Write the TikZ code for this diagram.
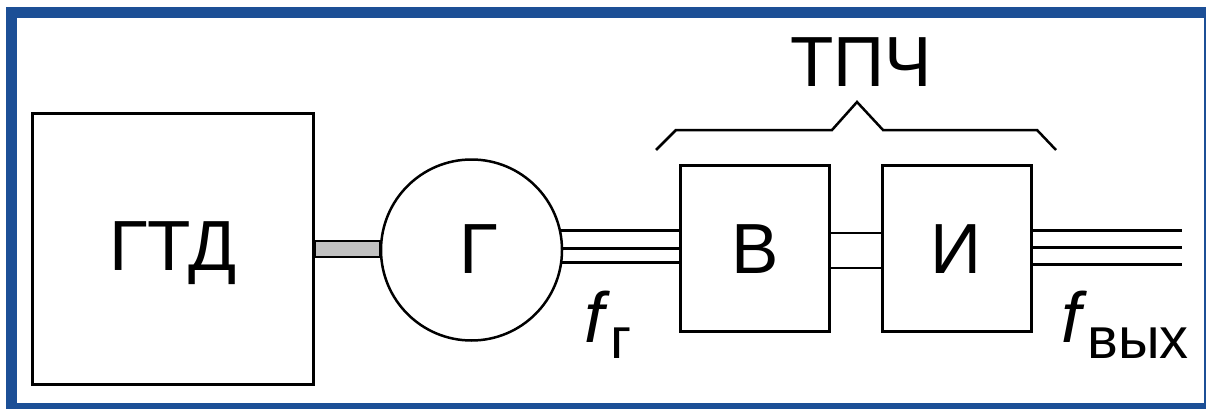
\documentclass[tikz,border=0pt]{standalone}
\usepackage{fontspec}
\setmainfont{Liberation Sans}
\usetikzlibrary{calc}
\definecolor{frameblue}{HTML}{1C4F96}
\definecolor{shaftgray}{HTML}{C0C0C0}
\newcommand{\bigfont}{\fontsize{71}{80}\selectfont}
\newcommand{\subfont}{\fontsize{58}{64}\selectfont}

\begin{document}
\begin{tikzpicture}[x=1pt, y=-1pt, line width=3pt,
  unitbox/.style={draw, rectangle, minimum width=149pt, minimum height=166pt,
    font=\bigfont, text height=49pt, text depth=0pt},
  freqlabel/.style={font=\bigfont, anchor=base west, inner sep=0pt}]

% Background and frame
\useasboundingbox (0,0) rectangle (1206,409);
\clip (0,0) rectangle (1206,409);
\fill[white] (0,0) rectangle (1206,409);
\draw[frameblue, line width=11pt] (11.5,13) rectangle (1209.5,408.5);

% Gas turbine engine
\node[unitbox, minimum width=281pt, minimum height=271pt, text height=42pt] (gtd) at (173,249) {ГТД};

% Generator
\node[draw, circle, line width=2.5pt, minimum size=181pt, inner sep=0pt,
  font=\bigfont, text height=46pt, text depth=0pt] (gen) at (471.5,250) {\kern14pt Г};

% Shaft between turbine and generator
\draw[fill=shaftgray, line width=2pt] ($(gtd.east)+(0,-8.5)$) rectangle ($(gen.west)+(0,6.5)$);

% Converter blocks
\node[unitbox] (vyp) at (755,248.5) {В};
\node[unitbox] (inv) at (956.5,248.5) {И};

% Three-phase lines, generator -> rectifier
\foreach \a in {12.6, 1.9, -8.7}
  \draw (gen.\a) -- (gen.\a -| vyp.west);

% DC link
\foreach \dy in {-15.5, 19.5}
  \draw[line width=2.5pt] ($(vyp.east)+(0,\dy)$) -- ($(inv.west)+(0,\dy)$);

% Three-phase output
\coordinate (out) at (1182,247);
\foreach \dy in {-18.5, -1.5, 15.5}
  \draw ($(inv.east)+(0,\dy)$) -- ($(inv.east -| out)+(0,\dy)$);

% Brace over the frequency converter
\draw[line width=2.5pt] (656,150) -- (676,130) -- (832,130) -- (857,102)
  -- (883,130) -- (1037,130) -- (1056,150);
\node[font=\bigfont, anchor=base] (tpc) at (861,87) {ТПЧ};

% Frequencies
\node[freqlabel] (fg) at (583,342) {\textit{f}\lower16pt\hbox{\subfont г}};
\node[freqlabel] (fout) at (1060,342) {\textit{f}\lower16pt\hbox{\subfont вых}};

\end{tikzpicture}
\end{document}
